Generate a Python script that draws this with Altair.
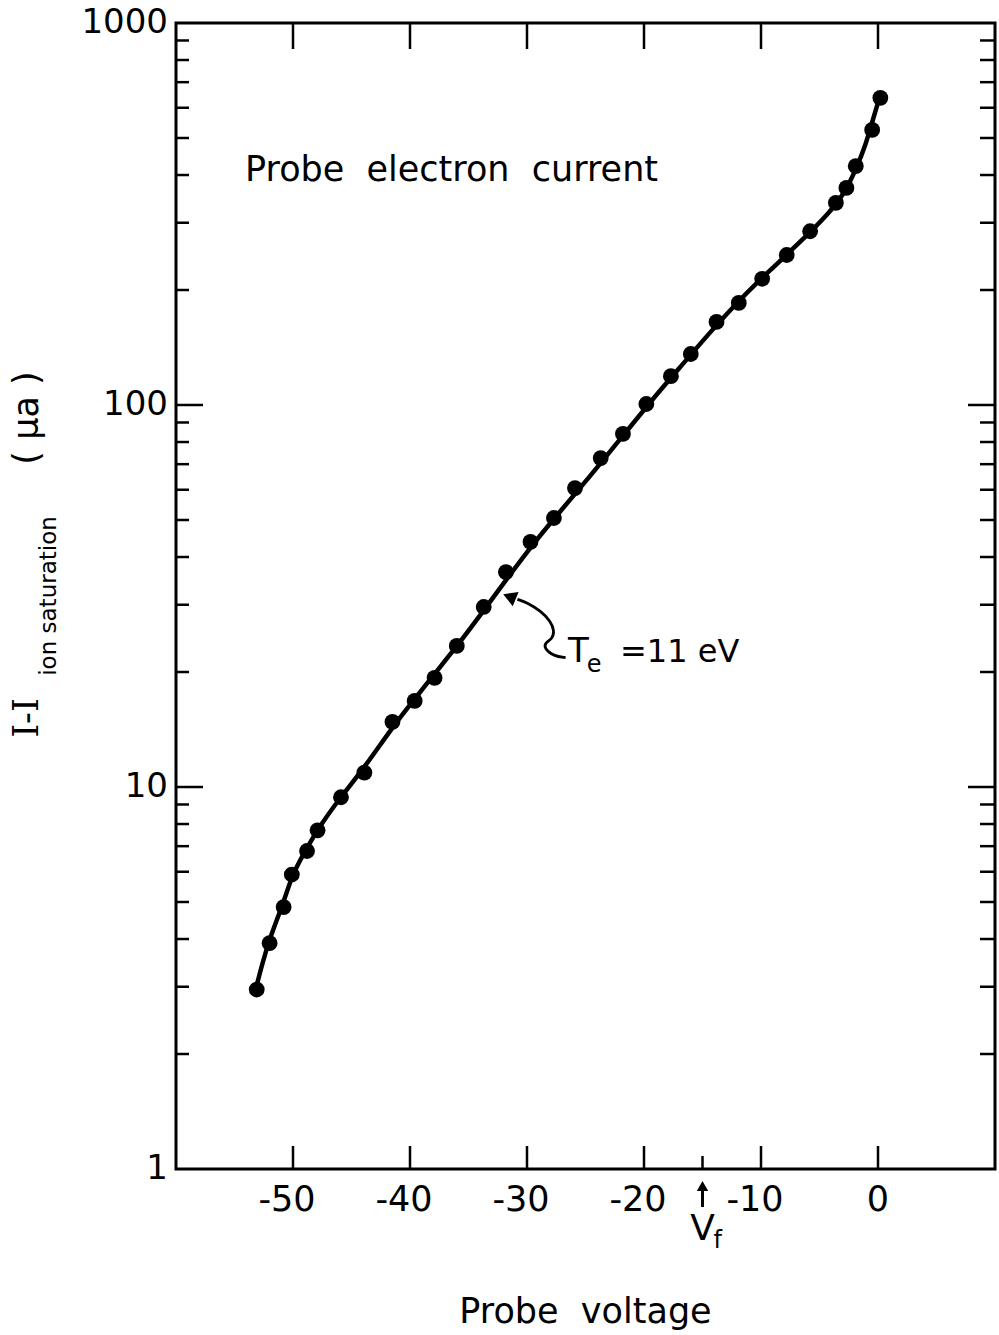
import altair as alt
import pandas as pd

# ---- data ----
# measured points
voltage = [-53.1, -52.0, -50.8, -50.1, -48.8, -47.9, -45.9, -43.9, -41.5, -39.6,
           -37.9, -36.0, -33.7, -31.8, -29.7, -27.7, -25.9, -23.7, -21.8, -19.8,
           -17.7, -16.0, -13.8, -11.9, -9.9, -7.8, -5.8, -3.6, -2.7, -1.9, -0.5, 0.2]
current = [2.95, 3.9, 4.85, 5.9, 6.8, 7.7, 9.4, 10.9, 14.8, 16.8,
           19.3, 23.4, 29.6, 36.5, 43.8, 50.6, 60.6, 72.6, 84.0, 100.6,
           119, 136, 165, 185, 214, 247, 285, 338, 370, 422, 525, 637]

# drawn (fitted) curve
curve_v = [-53.16, -52.14, -50.85, -50.09, -48.89, -47.86, -45.98, -43.93, -41.54, -39.66,
           -37.95, -36.07, -33.76, -31.45, -29.32, -27.18, -24.62, -22.05, -19.49, -16.92,
           -14.36, -11.79, -9.23, -6.67, -4.10, -2.82, -1.88, -1.03, -0.43, 0.17]
curve_i = [2.98, 3.93, 4.92, 5.89, 6.85, 7.78, 9.37, 11.2, 14.3, 16.9,
           19.7, 23.2, 28.8, 36.0, 43.9, 52.6, 65.0, 81.3, 101.6, 125.5,
           155.0, 189.1, 225.3, 266.7, 319.6, 360.6, 414.2, 481.7, 560.1, 643.5]

x_ticks = [-50, -40, -30, -20, -10, 0]
x_tick_labels = ["-50", "-40", "-30", "-20", "-10", "0"]
y_labels = [1, 10, 100, 1000]
y_label_text = ["1", "10", "100", "1000"]
y_major = [10, 100]
y_minor = [2, 3, 4, 5, 6, 7, 8, 9, 20, 30, 40, 50, 60, 70, 80, 90,
           200, 300, 400, 500, 600, 700, 800, 900]
vf_x = [-15]

# annotation arrow (curly) from the T_e label to the line
arrow_x = [-26.7, -27.7, -28.56, -28.41, -27.84, -27.65, -27.99, -28.84, -29.97, -30.82]
arrow_y = [21.8, 22.0, 23.1, 23.9, 24.4, 25.6, 27.2, 28.9, 30.4, 31.0]
arrowhead_x = [-31.5]
arrowhead_y = [31.5]

W, H = 819, 1146
FONT = "DejaVu Sans"
SP = " \u00a0"

xs = alt.Scale(domain=[-60, 10], nice=False, zero=False)
ys = alt.Scale(type="log", domain=[1, 1000], nice=False)


def X(field="x"):
    return alt.X(f"{field}:Q", scale=xs, axis=None)


def Y(field="y"):
    return alt.Y(f"{field}:Q", scale=ys, axis=None)


pts = pd.DataFrame({"x": voltage, "y": current})
curve = pd.DataFrame({"x": curve_v, "y": curve_i})

line = alt.Chart(curve).mark_line(color="black", strokeWidth=4.5, interpolate="basis").encode(
    x=X(), y=Y())
dots = alt.Chart(pts).mark_point(filled=True, color="black", size=250, opacity=1).encode(
    x=X(), y=Y())

# inward ticks
df_xt = pd.DataFrame({"x": x_ticks, "t": x_tick_labels})
bottom_ticks = alt.Chart(df_xt).mark_rule(color="black", strokeWidth=2.5).encode(
    x=X(), y=alt.value(H), y2=alt.value(H - 23))
top_ticks = alt.Chart(df_xt).mark_rule(color="black", strokeWidth=2.5).encode(
    x=X(), y=alt.value(0), y2=alt.value(26))
df_vf = pd.DataFrame({"x": vf_x})
vf_tick = alt.Chart(df_vf).mark_rule(color="black", strokeWidth=2.5).encode(
    x=X(), y=alt.value(H), y2=alt.value(H - 13))

df_ymaj = pd.DataFrame({"y": y_major})
df_ymin = pd.DataFrame({"y": y_minor})
left_major = alt.Chart(df_ymaj).mark_rule(color="black", strokeWidth=2.5).encode(
    y=Y(), x=alt.value(0), x2=alt.value(27))
left_minor = alt.Chart(df_ymin).mark_rule(color="black", strokeWidth=2.5).encode(
    y=Y(), x=alt.value(0), x2=alt.value(13))
right_major = alt.Chart(df_ymaj).mark_rule(color="black", strokeWidth=2.5).encode(
    y=Y(), x=alt.value(W), x2=alt.value(W - 27))
right_minor = alt.Chart(df_ymin).mark_rule(color="black", strokeWidth=2.5).encode(
    y=Y(), x=alt.value(W), x2=alt.value(W - 15))

# tick labels (digits centred on the tick, minus sign hanging to the left)
xlab_neg = alt.Chart(df_xt).transform_filter("datum.x < 0").mark_text(
    font=FONT, fontSize=35, align="center", baseline="middle", color="black", dx=-6).encode(
    x=X(), y=alt.value(H + 31), text="t:N")
xlab_zero = alt.Chart(df_xt).transform_filter("datum.x >= 0").mark_text(
    font=FONT, fontSize=35, align="center", baseline="middle", color="black").encode(
    x=X(), y=alt.value(H + 31), text="t:N")
df_yl = pd.DataFrame({"y": y_labels, "t": y_label_text})
ylab = alt.Chart(df_yl).mark_text(
    font=FONT, fontSize=34, align="right", baseline="middle", color="black").encode(
    y=Y(), x=alt.value(-8), text="t:N")

xtitle = alt.Chart(pd.DataFrame({"k": [0]})).mark_text(
    text="Probe" + SP + "voltage", font=FONT, fontSize=35, align="center",
    baseline="alphabetic", color="black").encode(x=alt.value(W / 2), y=alt.value(H + 154))

# V_f arrow and label below the axis
vf_shaft = alt.Chart(df_vf).mark_rule(color="black", strokeWidth=3).encode(
    x=X(), y=alt.value(H + 20), y2=alt.value(H + 38))
vf_head = alt.Chart(df_vf).mark_point(shape="triangle-up", filled=True, color="black",
                                      size=130, opacity=1).encode(
    x=X(), y=alt.value(H + 17))
vf_V = alt.Chart(df_vf).mark_text(text="V", font=FONT, fontSize=36, align="center",
                                  baseline="alphabetic", color="black").encode(
    x=X(), y=alt.value(H + 71))
vf_f = alt.Chart(df_vf).mark_text(text="f", font=FONT, fontSize=24, align="left",
                                  baseline="alphabetic", color="black", dx=11).encode(
    x=X(), y=alt.value(H + 79))

# annotations
title_txt = alt.Chart(pd.DataFrame({"x": [-54.1], "y": [385]})).mark_text(
    text="Probe" + SP + "electron" + SP + "current", font=FONT, fontSize=35, align="left",
    baseline="alphabetic", color="black").encode(x=X(), y=Y())

te_T = alt.Chart(pd.DataFrame({"x": [-26.5], "y": [21.2]})).mark_text(
    text="T", font=FONT, fontSize=34, align="left", baseline="alphabetic", color="black").encode(
    x=X(), y=Y())
te_e = alt.Chart(pd.DataFrame({"x": [-24.9], "y": [20.05]})).mark_text(
    text="e", font=FONT, fontSize=24, align="left", baseline="alphabetic", color="black").encode(
    x=X(), y=Y())
te_rest = alt.Chart(pd.DataFrame({"x": [-22.05], "y": [21.2]})).mark_text(
    text="=11 eV", font=FONT, fontSize=32, align="left", baseline="alphabetic", color="black").encode(
    x=X(), y=Y())

arrow_df = pd.DataFrame({"x": arrow_x, "y": arrow_y, "o": list(range(len(arrow_x)))})
arrow = alt.Chart(arrow_df).mark_line(color="black", strokeWidth=2.8, interpolate="basis").encode(
    x=X(), y=Y(), order="o:Q")
arrow_head = alt.Chart(pd.DataFrame({"x": arrowhead_x, "y": arrowhead_y})).mark_point(
    shape="triangle-up", filled=True, color="black", size=240, angle=292, opacity=1).encode(
    x=X(), y=Y())

# y-axis title composed of pieces (with subscript)
ytitle_a = alt.Chart(pd.DataFrame({"k": [0]})).mark_text(
    text="I-I", font="DejaVu Serif", fontSize=35, angle=270, align="center",
    baseline="middle", color="black").encode(x=alt.value(-149), y=alt.value(695))
ytitle_b = alt.Chart(pd.DataFrame({"k": [0]})).mark_text(
    text="ion saturation", font=FONT, fontSize=23, angle=270, align="center",
    baseline="middle", color="black").encode(x=alt.value(-127), y=alt.value(573))
ytitle_c = alt.Chart(pd.DataFrame({"k": [0]})).mark_text(
    text="( μa )", font=FONT, fontSize=35, angle=270, align="center",
    baseline="middle", color="black").encode(x=alt.value(-149), y=alt.value(395))

chart = alt.layer(
    line, dots, bottom_ticks, top_ticks, vf_tick, left_major, left_minor,
    right_major, right_minor, xlab_neg, xlab_zero, ylab, xtitle,
    vf_shaft, vf_head, vf_V, vf_f, title_txt,
    te_T, te_e, te_rest, arrow, arrow_head, ytitle_a, ytitle_b, ytitle_c
).properties(
    width=W, height=H,
    autosize=alt.AutoSizeParams(type="none"),
    padding={"left": 176, "top": 23, "right": 4, "bottom": 166},
    background="white",
).configure_view(stroke="black", strokeWidth=3)

chart.save("out.html", embed_options={"renderer": "svg", "actions": False})
